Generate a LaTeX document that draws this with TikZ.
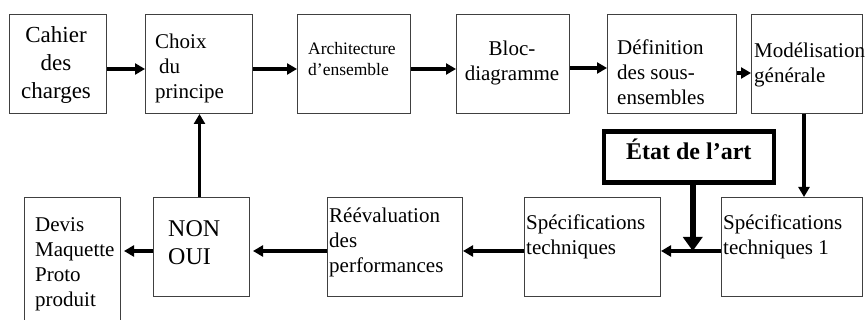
\documentclass[tikz,border=0pt]{standalone}
\usepackage{fontspec}
\setmainfont{Liberation Serif}
\usetikzlibrary{arrows.meta}

\newcommand{\setfs}[2]{\fontsize{#1}{#2}\selectfont}

\tikzset{
    bloc/.style={draw=black!75, line width=1pt, anchor=north west, inner sep=0pt},
    txt/.style={anchor=west, align=left, inner sep=0pt, font=\setfs{21}{25}},
    fleche/.style={line width=3.2pt, -{Triangle[length=10pt,width=11pt]}},
    fleche epaisse/.style={line width=6pt, -{Triangle[length=14pt,width=19pt]}}
}

\begin{document}
\begin{tikzpicture}[x=1pt, y=-1pt]
        \useasboundingbox (0,0) rectangle (865,320);

        % the boxes of the first row
        \node[bloc, minimum width=97pt, minimum height=99pt] (cahier) at (9,14) {};
        \node[bloc, minimum width=107pt, minimum height=99pt] (choix) at (145,14) {};
        \node[bloc, minimum width=113pt, minimum height=99pt] (archi) at (297,14) {};
        \node[bloc, minimum width=113pt, minimum height=99pt] (bloc) at (456,14) {};
        \node[bloc, minimum width=129pt, minimum height=99pt] (def) at (607,14) {};
        \node[bloc, minimum width=111pt, minimum height=99pt] (model) at (751,14) {};

        % the boxes of the second row
        \node[bloc, minimum width=96pt, minimum height=130pt] (devis) at (24,197) {};
        \node[bloc, minimum width=96pt, minimum height=99pt] (nonoui) at (153,197) {};
        \node[bloc, minimum width=135pt, minimum height=99pt] (reeval) at (327,197) {};
        \node[bloc, minimum width=136pt, minimum height=99pt] (spec) at (524,197) {};
        \node[bloc, minimum width=141pt, minimum height=99pt] (spec1) at (721,197) {};

        % the thick box of the state of the art
        \node[bloc, draw=black, line width=4.5pt, minimum width=170pt, minimum height=51pt,
            text depth=16pt, font=\bfseries\setfs{24}{28}] (etat) at (601.5,129.5) {État de l’art};

        % the texts in the boxes
        \node[txt, anchor=center, align=center, font=\setfs{23}{28}] (cahiertxt) at (56,65) {Cahier\\des\\charges};
        \node[txt] (choixtxt) at (155,68) {Choix\\\hspace{4pt}du\\principe};
        \node[txt, font=\setfs{17.5}{21}] (architxt) at (308,59.5) {Architecture\\d’ensemble};
        \node[txt, anchor=center, align=center] (bloctxt) at (512,62.5) {Bloc-\\diagramme};
        \node[txt] (deftxt) at (617,72.5) {Définition\\des sous-\\ensembles};
        \node[txt] (modeltxt) at (754,65) {Modélisation\\générale};
        \node[txt] (devistxt) at (35,264) {Devis\\Maquette\\Proto\\produit};
        \node[txt, font=\setfs{24}{28}] (nonouitxt) at (168,243) {NON\\OUI};
        \node[txt] (reevaltxt) at (329,242) {Réévaluation\\des\\performances};
        \node[txt] (spectxt) at (526,236.5) {Spécifications\\techniques};
        \node[txt] (spec1txt) at (723,236.5) {Spécifications\\techniques 1};

        % arrows of the first row
        \draw[fleche] ([yshift=-5pt]cahier.east) -- ([yshift=-5pt]choix.west);
        \draw[fleche] ([yshift=-5pt]choix.east) -- ([yshift=-5pt]archi.west);
        \draw[fleche] ([yshift=-5pt]archi.east) -- ([yshift=-5pt]bloc.west);
        \draw[fleche] ([yshift=-4pt]bloc.east) -- ([yshift=-4pt]def.west);
        \draw[fleche] ([yshift=-9pt]def.east) -- ([yshift=-9pt]model.west);

        % down to the second row
        \draw[fleche] ([xshift=-3pt]model.south) -- ([xshift=-3pt]model.south |- spec1.north);

        % arrows of the second row
        \coordinate (jonction) at ([yshift=-4pt]spec1.west);
        \draw[fleche] (jonction) -- ([yshift=-4pt]spec.east);
        \draw[fleche epaisse] ([xshift=4pt]etat.south) -- ([xshift=4pt]etat.south |- jonction);
        \draw[fleche] ([yshift=-4pt]spec.west) -- ([yshift=-4pt]reeval.east);
        \draw[fleche, shorten >=3pt] ([yshift=-4pt]reeval.west) -- ([yshift=-4pt]nonoui.east);
        \draw[fleche, shorten >=3pt] ([yshift=-4pt]nonoui.west) -- ([yshift=-4pt]nonoui.west -| devis.east);

        % back up to the choice of the principle
        \draw[fleche] ([xshift=-2pt]nonoui.north) -- ([xshift=-2pt]nonoui.north |- choix.south);
    \end{tikzpicture}
\end{document}
